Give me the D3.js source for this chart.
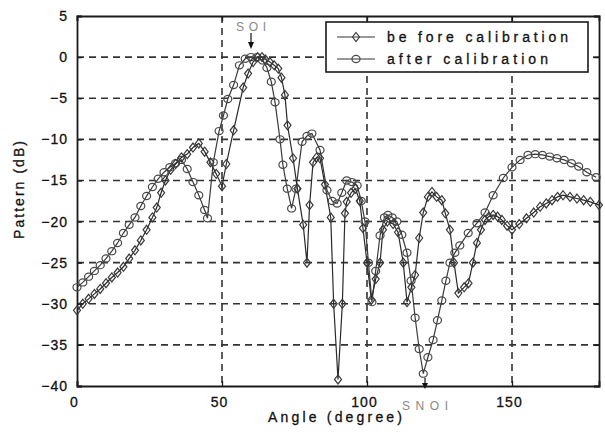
<!DOCTYPE html>
<html>
<head>
<meta charset="utf-8">
<script src="https://cdn.jsdelivr.net/npm/d3@7"></script>
<style>
  html, body { margin: 0; padding: 0; background: #fff; }
  svg { display: block; }
  text { font-family: "Liberation Sans", Arial, sans-serif; fill: #111; stroke: #111; stroke-width: 0.3px; }
</style>
</head>
<body>
<svg id="chart" width="605" height="434"></svg>
<script>
// Beam pattern before and after array calibration
const beforeAngle = [0, 2, 4, 6, 8, 10, 12, 14, 16, 18, 20, 22, 24, 26, 27.5, 29, 30.5, 32.3, 34, 36, 38, 40, 42, 44, 46, 48, 50, 51.5, 54, 57.3, 59, 60.7, 62.3, 63.8, 65, 66.5, 68, 69.4, 70.5, 71.7, 72.6, 74.5, 76, 78, 79.3, 80.2, 81.4, 82.6, 83.8, 85.5, 87.5, 88.5, 90, 91.5, 92.4, 93, 94.5, 96, 97.5, 98.6, 100, 101.5, 103, 104.5, 105.5, 107, 109, 110.7, 112.5, 113.8, 115.3, 116.6, 118, 119.4, 121, 122.4, 124, 125.8, 127, 128.6, 130, 131.5, 133.5, 135, 136.5, 137.9, 139.3, 140.7, 142, 143.5, 145, 146.5, 148.3, 150, 152.5, 155, 157.5, 159.7, 161.8, 163.8, 165.7, 167.6, 170, 172.4, 174.7, 177, 180];
const beforeDb = [-30.8, -30, -29.4, -28.8, -28.2, -27.5, -26.8, -26.2, -25.5, -24.5, -23.5, -22.3, -21, -19.5, -18.3, -16.5, -15, -13.7, -13, -12.2, -11.8, -11, -10.5, -11.5, -12.8, -14.2, -15.7, -13, -8.9, -3.7, -2, -0.6, 0, 0, -0.3, -0.6, -1, -1.4, -2.5, -4.6, -8.3, -12.3, -16, -20.4, -25, -18, -12.8, -12.2, -12.3, -15.5, -19.5, -30, -39.2, -30, -19, -17.6, -16.5, -16, -17.5, -20.8, -25, -29.5, -27, -25, -21, -20, -20.3, -21.3, -25, -29.8, -28, -26.5, -22, -18.9, -17, -16.4, -17, -17.4, -19, -21, -25, -28.7, -28, -27.5, -25, -22.6, -21, -19.8, -19.4, -19.2, -19.4, -19.8, -20.5, -21, -20.3, -19.6, -18.9, -18.2, -17.8, -17.4, -17, -16.8, -17, -17.2, -17.4, -17.6, -18];

const afterAngle = [0, 2, 4, 6, 8, 10, 12, 14, 16, 18, 20, 22, 24, 26, 28, 30, 32, 34, 36, 38, 40, 42, 44, 45, 47, 49, 50.5, 52, 54, 56, 58, 60, 62, 64, 65.5, 67, 68.3, 70, 71, 72.5, 74, 75.5, 77.6, 79.3, 81, 83.8, 86.2, 88, 89.7, 91.3, 93, 94.8, 96.6, 98, 99.3, 100.5, 101.7, 103, 104.5, 106, 107.2, 108.7, 110.3, 112, 113.8, 115.2, 116.6, 118, 119.4, 121, 122.8, 124.3, 125.8, 127.2, 128.6, 130.3, 132, 134.9, 137.9, 140.7, 143.5, 147, 150, 152.8, 155.5, 158, 160.5, 163, 165.5, 168, 170.5, 173, 175.8, 179];
const afterDb = [-28, -27.4, -26.7, -26, -25.3, -24.5, -23.6, -22.6, -21.4, -20.4, -19.5, -18.1, -16.9, -15.8, -14.8, -14, -13.4, -12.9, -12.5, -13.6, -15.2, -16.8, -18.6, -19.6, -12.8, -9, -7.1, -5.1, -3.4, -1, -0.2, 0, 0, -0.4, -1.3, -3, -5.5, -10, -13.1, -16, -18.4, -16, -10.3, -9.6, -9.3, -11.3, -16.2, -17.5, -17.8, -16.5, -15, -15.2, -15.6, -17.5, -20, -25, -29.8, -26, -21.7, -19.5, -19.2, -19.5, -20, -21.6, -23.8, -27.2, -31.7, -35.5, -38.5, -36.5, -34.4, -32, -29.6, -27.2, -25, -23.8, -22.9, -21.4, -20.2, -18.9, -16.8, -14.7, -13.4, -12.5, -11.9, -11.8, -11.9, -12.1, -12.3, -12.5, -12.9, -13.3, -14, -14.6];

const xTicks = [0, 50, 100, 150];
const yTicks = [5, 0, -5, -10, -15, -20, -25, -30, -35, -40];
const seriesNames = ["be fore calibration", "after calibration"];
const soiAngle = 60;
const snoiAngle = 120;

const svg = d3.select("#chart");
const W = 605, H = 434;
const m = { left: 77, right: 6, top: 16, bottom: 48 };
const x = d3.scaleLinear().domain([0, 180]).range([m.left, W - m.right]);
const y = d3.scaleLinear().domain([-40, 5]).range([H - m.bottom, m.top]);

svg.append("rect").attr("width", W).attr("height", H).attr("fill", "#fff");

// dashed grid
const grid = svg.append("g").attr("stroke", "#333").attr("stroke-width", 1.6)
  .attr("stroke-dasharray", "7,5");
grid.selectAll("line.h").data(yTicks.filter(v => v > -40 && v < 5)).join("line")
  .attr("x1", x(0)).attr("x2", x(180)).attr("y1", d => y(d)).attr("y2", d => y(d));
grid.selectAll("line.v").data(xTicks.filter(v => v > 0)).join("line")
  .attr("y1", y(5)).attr("y2", y(-40)).attr("x1", d => x(d)).attr("x2", d => x(d));

// axes with inward ticks
const fontSize = "14px";
const gx = svg.append("g").attr("transform", `translate(0,${y(-40)})`)
  .call(d3.axisBottom(x).tickValues(xTicks).tickSize(-5).tickPadding(11).tickFormat(d3.format("d")));
const gy = svg.append("g").attr("transform", `translate(${x(0)},0)`)
  .call(d3.axisLeft(y).tickValues(yTicks).tickSize(-5).tickPadding(9).tickFormat(d3.format("d")));
const gt = svg.append("g").attr("transform", `translate(0,${y(5)})`)
  .call(d3.axisTop(x).tickValues(xTicks).tickSize(-5).tickFormat(""));
const gr = svg.append("g").attr("transform", `translate(${x(180)},0)`)
  .call(d3.axisRight(y).tickValues(yTicks).tickSize(-5).tickFormat(""));
[gx, gy, gt, gr].forEach(g => {
  g.select(".domain").attr("stroke", "#1a1a1a").attr("stroke-width", 1.8);
  g.selectAll(".tick line").attr("stroke", "#1a1a1a").attr("stroke-width", 1.3);
  g.selectAll(".tick text").attr("fill", "#111").style("font-size", fontSize)
    .style("font-family", "'Liberation Sans', Arial, sans-serif").style("letter-spacing", "1px");
});
gx.selectAll(".tick text").attr("dx", "-3");

// series
const before = beforeAngle.map((a, i) => [a, beforeDb[i]]);
const after = afterAngle.map((a, i) => [a, afterDb[i]]);
const line = d3.line().x(d => x(d[0])).y(d => y(d[1]));

const plot = svg.append("g");
plot.append("path").datum(after).attr("d", line)
  .attr("fill", "none").attr("stroke", "#3a3a3a").attr("stroke-width", 1.2);
plot.append("path").datum(before).attr("d", line)
  .attr("fill", "none").attr("stroke", "#2a2a2a").attr("stroke-width", 1.2);

const diamond = (cx, cy) => `M${cx},${cy - 4.5}L${cx + 3.5},${cy}L${cx},${cy + 4.5}L${cx - 3.5},${cy}Z`;

plot.append("g").selectAll("ellipse").data(after).join("ellipse")
  .attr("cx", d => x(d[0])).attr("cy", d => y(d[1])).attr("rx", 4).attr("ry", 3.6)
  .attr("fill", "none").attr("stroke", "#4a4a4a").attr("stroke-width", 1.2);
plot.append("g").selectAll("path").data(before).join("path")
  .attr("d", d => diamond(x(d[0]), y(d[1])))
  .attr("fill", "none").attr("stroke", "#3a3a3a").attr("stroke-width", 1.2);

// legend
const lg = svg.append("g");
lg.append("rect").attr("x", 326).attr("y", 22).attr("width", 262).attr("height", 50)
  .attr("fill", "#fff").attr("stroke", "#1a1a1a").attr("stroke-width", 1.6);
const legendRows = [{ y: 37, kind: "before" }, { y: 59, kind: "after" }];
legendRows.forEach((r, i) => {
  lg.append("line").attr("x1", 337).attr("x2", 375).attr("y1", r.y).attr("y2", r.y)
    .attr("stroke", "#333").attr("stroke-width", 1.2);
  if (r.kind === "before") {
    lg.append("path").attr("d", diamond(356, r.y)).attr("fill", "none").attr("stroke", "#3a3a3a").attr("stroke-width", 1.2);
  } else {
    lg.append("ellipse").attr("cx", 356).attr("cy", r.y).attr("rx", 4).attr("ry", 3.6)
      .attr("fill", "none").attr("stroke", "#4a4a4a").attr("stroke-width", 1.2);
  }
  lg.append("text").attr("x", 387).attr("y", r.y + 5).style("font-size", "14px")
    .attr("textLength", i === 0 ? 181 : 161).attr("lengthAdjust", "spacing")
    .text(seriesNames[i]);
});

// annotations
svg.append("text").attr("x", x(soiAngle)).attr("y", 31).attr("text-anchor", "middle")
  .style("font-size", "12px").style("fill", "#888").style("stroke", "none").attr("textLength", 30).text("SOI");
svg.append("line").attr("x1", x(soiAngle)).attr("x2", x(soiAngle)).attr("y1", 33).attr("y2", 44)
  .attr("stroke", "#111").attr("stroke-width", 1.2);
svg.append("path").attr("d", `M${x(soiAngle) - 3},${42}L${x(soiAngle) + 3},${42}L${x(soiAngle)},${49}Z`)
  .attr("fill", "#111");

svg.append("text").attr("x", x(snoiAngle)).attr("y", 410).attr("text-anchor", "middle")
  .style("font-size", "12px").style("fill", "#888").style("stroke", "none").attr("textLength", 46).text("SNOI");
svg.append("line").attr("x1", x(snoiAngle)).attr("x2", x(snoiAngle)).attr("y1", 378).attr("y2", 386)
  .attr("stroke", "#111").attr("stroke-width", 1.2);
svg.append("path").attr("d", `M${x(snoiAngle) - 3},${383}L${x(snoiAngle) + 3},${383}L${x(snoiAngle)},${389}Z`)
  .attr("fill", "#111");

// axis titles
svg.append("text").attr("x", 335).attr("y", 422).attr("text-anchor", "middle")
  .style("font-size", "14px").attr("textLength", 134).attr("lengthAdjust", "spacing")
  .text("Angle (degree)");
svg.append("text").attr("transform", "translate(24,190) rotate(-90)").attr("text-anchor", "middle")
  .style("font-size", "14px").attr("textLength", 98).attr("lengthAdjust", "spacing")
  .text("Pattern (dB)");
</script>
</body>
</html>
